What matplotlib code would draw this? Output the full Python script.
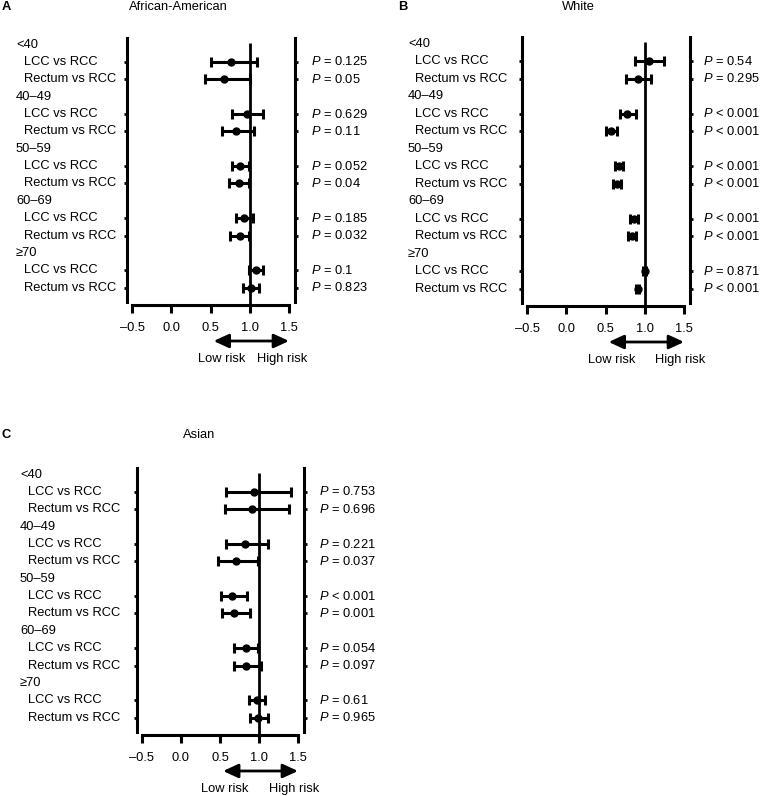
import numpy as np
import matplotlib
matplotlib.use('Agg')
import matplotlib.pyplot as plt
from matplotlib import transforms

plt.rcParams['font.family'] = 'Liberation Sans'
plt.rcParams['font.size'] = 9.3
plt.rcParams['mathtext.fontset'] = 'custom'
plt.rcParams['mathtext.it'] = 'Liberation Sans:italic'
plt.rcParams['mathtext.rm'] = 'Liberation Sans'

# data
groups = ['<40', '40–49', '50–59', '60–69', '≥70']
comparisons = ['LCC vs RCC', 'Rectum vs RCC']

aa_hr = [0.76, 0.67, 0.96, 0.83, 0.88, 0.86, 0.93, 0.87, 1.08, 1.01]
aa_lo = [0.50, 0.43, 0.78, 0.64, 0.77, 0.74, 0.82, 0.75, 0.99, 0.91]
aa_hi = [1.09, 1.00, 1.17, 1.05, 0.99, 0.99, 1.04, 0.99, 1.17, 1.12]
aa_p = ['= 0.125', '= 0.05', '= 0.629', '= 0.11', '= 0.052',
        '= 0.04', '= 0.185', '= 0.032', '= 0.1', '= 0.823']

wh_hr = [1.05, 0.91, 0.78, 0.57, 0.67, 0.65, 0.86, 0.84, 1.00, 0.91]
wh_lo = [0.88, 0.76, 0.68, 0.50, 0.62, 0.60, 0.81, 0.79, 0.98, 0.89]
wh_hi = [1.24, 1.08, 0.89, 0.64, 0.72, 0.70, 0.91, 0.89, 1.02, 0.93]
wh_p = ['= 0.54', '= 0.295', '< 0.001', '< 0.001', '< 0.001',
        '< 0.001', '< 0.001', '< 0.001', '= 0.871', '< 0.001']

as_hr = [0.93, 0.91, 0.82, 0.70, 0.66, 0.68, 0.83, 0.84, 0.97, 0.99]
as_lo = [0.58, 0.57, 0.58, 0.48, 0.51, 0.53, 0.68, 0.68, 0.87, 0.88]
as_hi = [1.41, 1.39, 1.12, 0.99, 0.85, 0.88, 0.99, 1.02, 1.08, 1.12]
as_p = ['= 0.753', '= 0.696', '= 0.221', '= 0.037', '< 0.001',
        '= 0.001', '= 0.054', '= 0.097', '= 0.61', '= 0.965']

xticks = [-0.5, 0.0, 0.5, 1.0, 1.5]
xticklabels = ['–0.5', '0.0', '0.5', '1.0', '1.5']

W, H = 760, 796
fig = plt.figure(figsize=(W/100, H/100), dpi=100, facecolor='white')

def fy(py):
    return 1 - py/H

# rows: group header then its comparisons
header_rows = []
comp_rows = []
r = 0
for g in groups:
    header_rows.append(r)
    comp_rows.extend([r+1, r+2])
    r += 3

def panel(box, letter, letter_x, title, title_x, title_y, hr, lo, hi, pv,
          gx, ix, px, low_x, high_x):
    left, top, right, bottom = box
    ax = fig.add_axes([left/W, fy(bottom), (right-left)/W, (bottom-top)/H])
    ax.set_xlim(-0.56, 1.58)
    ax.set_ylim(15.0, -0.38)
    ax.set_facecolor('none')

    hr = np.array(hr)
    err = np.vstack([hr - np.array(lo), np.array(hi) - hr])
    ax.vlines(1.0, -0.1, 15.0, color='black', lw=2.0, zorder=2)
    ax.errorbar(hr, comp_rows, xerr=err, fmt='o', color='black', ms=5,
                elinewidth=2.2, capsize=3.3, capthick=2.2, zorder=3)

    ax.spines['top'].set_visible(False)
    for s in ['left', 'right', 'bottom']:
        ax.spines[s].set_linewidth(2.2)
    ax.spines['bottom'].set_bounds(-0.5, 1.5)
    ax.spines['left'].set_bounds(-0.38, 14.8)
    ax.spines['right'].set_bounds(-0.38, 14.8)

    ax.set_xticks(xticks)
    ax.set_xticklabels(xticklabels)
    ax.tick_params(axis='x', direction='out', length=5.5, width=2.2, pad=6.5)
    ax.set_yticks(comp_rows)
    ax.set_yticklabels([])
    ax.tick_params(axis='y', direction='out', length=2, width=2,
                   left=True, right=True)

    tr = transforms.blended_transform_factory(fig.transFigure, ax.transData)
    for i, g in enumerate(groups):
        ax.text(gx/W, header_rows[i], g, transform=tr, ha='left', va='center')
    for k, row in enumerate(comp_rows):
        ax.text(ix/W, row, comparisons[k % 2], transform=tr,
                ha='left', va='center')
        ax.text(px/W, row, '$P$ ' + pv[k], transform=tr,
                ha='left', va='center')

    fig.text(title_x/W, fy(title_y), title, ha='center', va='center')
    fig.text(letter_x/W, fy(title_y), letter, ha='left', va='center',
             fontweight='bold')

    ytr = transforms.blended_transform_factory(ax.transData, fig.transFigure)
    ay = bottom + 36
    ax.annotate('', xy=(1.5, fy(ay)), xytext=(0.54, fy(ay)),
                xycoords=ytr, textcoords=ytr, annotation_clip=False,
                arrowprops=dict(arrowstyle='<|-|>,head_length=0.65,head_width=0.3',
                                mutation_scale=14, lw=2, color='black',
                                shrinkA=0, shrinkB=0))
    ax.text(low_x, fy(bottom + 54), 'Low risk', transform=ytr,
            ha='right', va='center')
    ax.text(high_x, fy(bottom + 54), 'High risk', transform=ytr,
            ha='left', va='center')
    return ax

panel((127.3, 38, 295.3, 305), 'A', 2, 'African-American', 178, 7,
      aa_hr, aa_lo, aa_hi, aa_p, 16, 24, 311, 0.95, 1.09)
panel((522.3, 37, 690.3, 306), 'B', 398, 'White', 578, 7,
      wh_hr, wh_lo, wh_hi, wh_p, 408, 415, 703, 0.88, 1.13)
panel((137.3, 468, 304.2, 735), 'C', 2, 'Asian', 199, 435,
      as_hr, as_lo, as_hi, as_p, 20, 28, 319, 0.86, 1.13)

fig.savefig('out.png', dpi=100, facecolor='white')
